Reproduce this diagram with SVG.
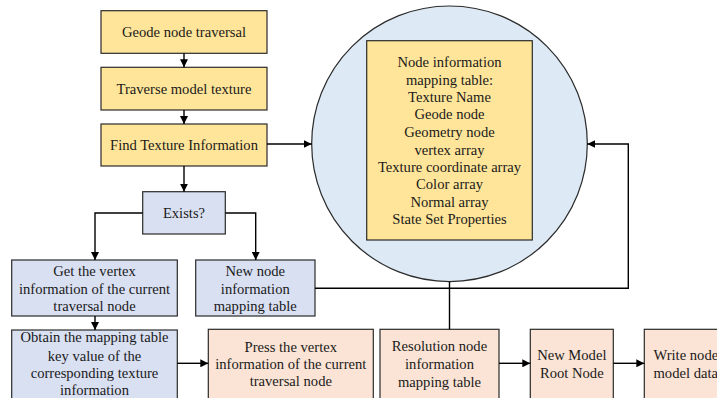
<svg xmlns="http://www.w3.org/2000/svg" width="717" height="398" viewBox="0 0 717 398">
  <style>
    .box { stroke: #2b2b2b; stroke-width: 1.2; }
    .yel { fill: #FFE599; }
    .blu { fill: #D9E0F2; }
    .pch { fill: #FBE4D5; }
    .circ { fill: #DDE9F5; stroke: #2b2b2b; stroke-width: 1.2; }
    text { font-family: "Liberation Serif", "Times New Roman", serif; font-size: 14.6px; fill: #1a1a1a; text-anchor: middle; }
    text.st { text-anchor: start; }
    .ln { fill: none; stroke: #000; stroke-width: 1.4; }
  </style>
  <defs>
    <marker id="arr" viewBox="0 0 10 10" refX="10" refY="5" markerWidth="8" markerHeight="8" markerUnits="userSpaceOnUse" orient="auto">
      <path d="M0,0 L10,5 L0,10 z" fill="#000"/>
    </marker>
  </defs>

  <rect width="717" height="398" fill="#fff"/>

  <g id="mapping-table">
    <circle class="circ" cx="449.5" cy="143.8" r="137.8"/>
    <rect class="box yel" x="366.7" y="40.7" width="165.6" height="199.3"/>
    <text x="449.5" y="66.5">Node information</text>
    <text x="449.5" y="84.8">mapping table:</text>
    <text x="449.5" y="101.8">Texture Name</text>
    <text x="449.5" y="119.3">Geode node</text>
    <text x="449.5" y="136.8">Geometry node</text>
    <text x="449.5" y="154.8">vertex array</text>
    <text x="449.5" y="171.8">Texture coordinate array</text>
    <text x="449.5" y="189.3">Color array</text>
    <text x="449.5" y="206.8">Normal array</text>
    <text x="449.5" y="224.3">State Set Properties</text>
  </g>

  <g id="geode-traversal">
    <rect class="box yel" x="101" y="10.7" width="166" height="42.6"/>
    <text x="184" y="37">Geode node traversal</text>
  </g>
  <g id="traverse-texture">
    <rect class="box yel" x="101" y="67.3" width="166" height="42.7"/>
    <text x="184" y="93.5">Traverse model texture</text>
  </g>
  <g id="find-texture">
    <rect class="box yel" x="101" y="124" width="166" height="42"/>
    <text x="184" y="150">Find Texture Information</text>
  </g>
  <g id="exists">
    <rect class="box blu" x="142.7" y="191.7" width="82.6" height="42.3"/>
    <text x="184" y="218">Exists?</text>
  </g>
  <g id="get-vertex">
    <rect class="box blu" x="11.7" y="260" width="165.6" height="56"/>
    <text x="94.5" y="276">Get the vertex</text>
    <text x="94.5" y="293.5">information of the current</text>
    <text x="94.5" y="311">traversal node</text>
  </g>
  <g id="new-table">
    <rect class="box blu" x="195.7" y="260" width="119.3" height="56"/>
    <text x="255.3" y="276">New node</text>
    <text x="255.3" y="293.5">information</text>
    <text x="255.3" y="311">mapping table</text>
  </g>
  <g id="key-value">
    <rect class="box blu" x="11.7" y="330" width="165.6" height="80"/>
    <text x="94.5" y="342.3">Obtain the mapping table</text>
    <text x="94.5" y="360.7">key value of the</text>
    <text x="94.5" y="377.7">corresponding texture</text>
    <text x="94.5" y="395">information</text>
  </g>
  <g id="press-vertex">
    <rect class="box pch" x="208.3" y="329.3" width="165" height="80"/>
    <text x="290.8" y="351.7">Press the vertex</text>
    <text x="290.8" y="368.7">information of the current</text>
    <text x="290.8" y="386">traversal node</text>
  </g>
  <g id="resolve-table">
    <rect class="box pch" x="380" y="329.3" width="119" height="80"/>
    <text x="439.5" y="351">Resolution node</text>
    <text x="439.5" y="369">information</text>
    <text x="439.5" y="386.7">mapping table</text>
  </g>
  <g id="model-root">
    <rect class="box pch" x="530.3" y="329.3" width="83" height="80"/>
    <text x="571.8" y="360">New Model</text>
    <text x="571.8" y="377.7">Root Node</text>
  </g>
  <g id="write-node">
    <rect class="box pch" x="644.3" y="329.3" width="90" height="80"/>
    <text class="st" x="653.5" y="360">Write node</text>
    <text class="st" x="653.5" y="377.7">model data</text>
  </g>

  <g id="connectors">
    <path class="ln" d="M184,53.3 V67.3" marker-end="url(#arr)"/>
    <path class="ln" d="M184,110 V124" marker-end="url(#arr)"/>
    <path class="ln" d="M267,144 H311.7" marker-end="url(#arr)"/>
    <path class="ln" d="M184,166 V191.7" marker-end="url(#arr)"/>
    <path class="ln" d="M142.7,213 H95 V260" marker-end="url(#arr)"/>
    <path class="ln" d="M225.3,213 H255.7 V260" marker-end="url(#arr)"/>
    <path class="ln" d="M95,316 V330" marker-end="url(#arr)"/>
    <path class="ln" d="M315,288.3 H628.3 V144 H587.3" marker-end="url(#arr)"/>
    <path class="ln" d="M449.5,281.6 V329.3"/>
    <path class="ln" d="M177.3,363.3 H208.3" marker-end="url(#arr)"/>
    <path class="ln" d="M499,363.3 H530.3" marker-end="url(#arr)"/>
    <path class="ln" d="M613.3,363.3 H644.3" marker-end="url(#arr)"/>
  </g>
</svg>
